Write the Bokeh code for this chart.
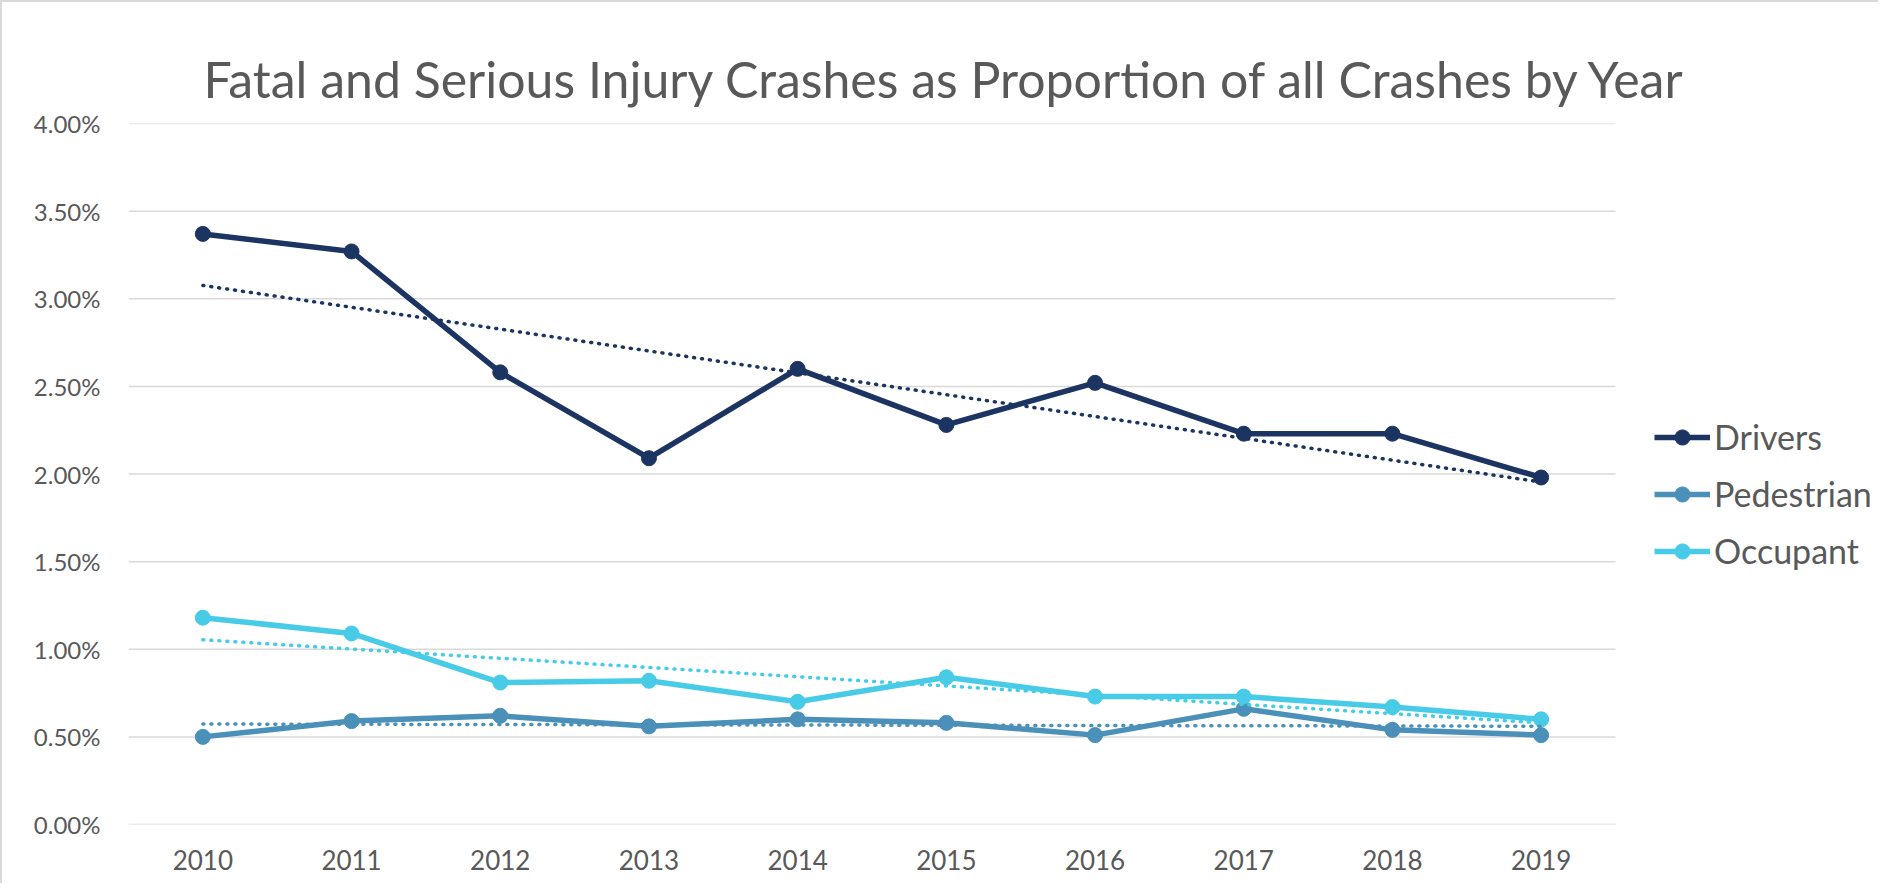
import numpy as np
from bokeh.plotting import figure
from bokeh.models import (Range1d, FixedTicker, PrintfTickFormatter,
                          Legend, LegendItem, ColumnDataSource)
from bokeh.embed import file_html
from bokeh.resources import INLINE

# ---- data ----
years = ["2010", "2011", "2012", "2013", "2014", "2015", "2016", "2017", "2018", "2019"]
drivers = [3.37, 3.27, 2.58, 2.09, 2.60, 2.28, 2.52, 2.23, 2.23, 1.98]
pedestrian = [0.50, 0.59, 0.62, 0.56, 0.60, 0.58, 0.51, 0.66, 0.54, 0.51]
occupant = [1.18, 1.09, 0.81, 0.82, 0.70, 0.84, 0.73, 0.73, 0.67, 0.60]
y_ticks = [0.0, 0.5, 1.0, 1.5, 2.0, 2.5, 3.0, 3.5, 4.0]

series_names = ["Drivers", "Pedestrian", "Occupant"]
series_values = [drivers, pedestrian, occupant]
series_colors = ["#1c3461", "#4a90b9", "#48cbe7"]

TEXT = "#595959"
GRID = "#d9d9d9"

W, H = 1878, 883
ML, MR, MT, MB = 126, 0, 121, 61
PLOT_W = 1487          # pixel width of the category area
n = len(years)
xs = [i + 0.5 for i in range(n)]          # category centres
frame_w = W - ML - MR
x_end = n * frame_w / PLOT_W               # extra room on the right for the legend

p = figure(width=W, height=H,
           x_range=Range1d(0, x_end),
           y_range=Range1d(0, 4),
           output_backend="svg", toolbar_location=None,
           min_border_left=ML, min_border_right=MR,
           min_border_top=MT, min_border_bottom=MB,
           outline_line_color=None,
           styles={"border-left": "2px solid #d9d9d9", "border-top": "2px solid #d9d9d9"})

p.title.text = "Fatal and Serious Injury Crashes as Proportion of all Crashes by Year"
p.title.text_font = "Lato"
p.title.text_font_size = "50px"
p.title.text_font_style = "normal"
p.title.text_color = TEXT
p.title.align = "left"
p.title.offset = 75
p.title.standoff = 30

# axes
p.yaxis.ticker = FixedTicker(ticks=y_ticks)
p.yaxis.formatter = PrintfTickFormatter(format="%.2f%%")
p.xaxis.ticker = FixedTicker(ticks=xs)
p.xaxis.major_label_overrides = {x: y for x, y in zip(xs, years)}
for ax in (p.xaxis[0], p.yaxis[0]):
    ax.axis_line_color = None
    ax.major_tick_line_color = None
    ax.minor_tick_line_color = None
    ax.major_tick_out = 0
    ax.major_tick_in = 0
    ax.major_label_text_font = "Lato"
    ax.major_label_text_color = TEXT
p.yaxis.major_label_text_font_size = "24px"
p.xaxis.major_label_text_font_size = "26px"
p.yaxis.major_label_standoff = 28
p.xaxis.major_label_standoff = 25

p.xgrid.grid_line_color = None
p.ygrid.grid_line_color = None

# horizontal gridlines spanning the category area only
p.segment(x0=[0] * len(y_ticks), x1=[n] * len(y_ticks), y0=y_ticks, y1=y_ticks,
          line_color=GRID, line_width=1.5)

x_idx = np.arange(n)
items = []
for name, vals, col in zip(series_names, series_values, series_colors):
    src = ColumnDataSource(dict(x=xs, y=vals))
    lr = p.line("x", "y", source=src, line_color=col, line_width=5.5, line_join="round")
    sr = p.scatter("x", "y", source=src, size=15, fill_color=col, line_color=col)
    items.append(LegendItem(label=name, renderers=[lr, sr]))

# linear trendlines (dotted)
for vals, col in zip(series_values, series_colors):
    k, b = np.polyfit(x_idx, vals, 1)
    trend = list(k * x_idx + b)
    p.line(xs, trend, line_color=col, line_width=3.5, line_dash="1 7", line_cap="round")

legend = Legend(items=items, location=(PLOT_W + 39, 253), orientation="vertical",
                border_line_color=None, background_fill_alpha=0,
                margin=0, padding=0, spacing=16,
                glyph_width=56, glyph_height=38, label_height=41,
                label_standoff=4,
                label_text_font="Lato", label_text_font_size="34px",
                label_text_color=TEXT)
p.add_layout(legend, "center")

open("out.html", "w").write(file_html(p, INLINE))
